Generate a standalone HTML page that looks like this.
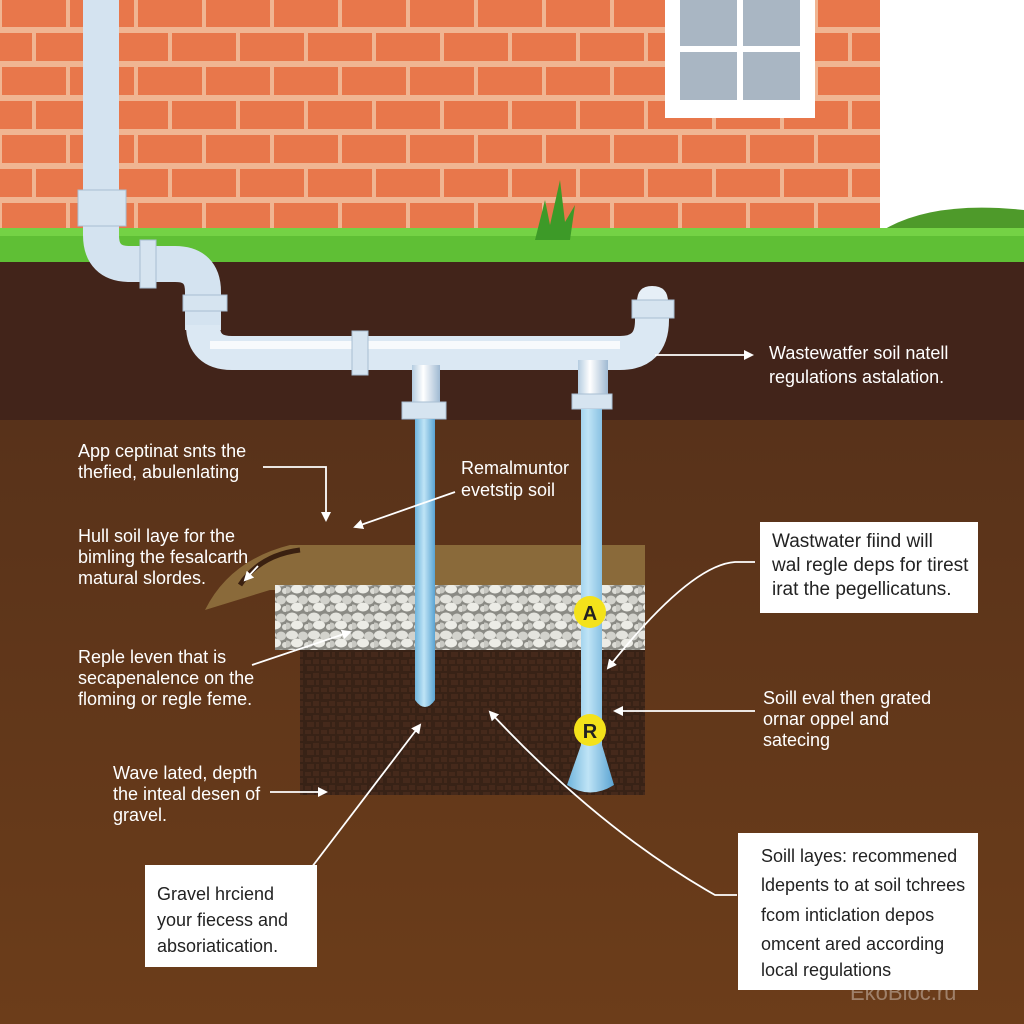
<!DOCTYPE html>
<html><head><meta charset="utf-8"><style>
html,body{margin:0;padding:0;width:1024px;height:1024px;overflow:hidden;background:#fff}
svg{display:block}
text{font-family:"Liberation Sans",sans-serif;}
</style></head><body>
<svg width="1024" height="1024" viewBox="0 0 1024 1024" xmlns="http://www.w3.org/2000/svg">
<defs>
<pattern id="brick" width="136" height="68" patternUnits="userSpaceOnUse" x="0" y="-4">
<rect width="136" height="68" fill="#f0b592"/>
<rect x="2" y="3" width="64" height="28" fill="#e8774b"/>
<rect x="70" y="3" width="64" height="28" fill="#e8774b"/>
<rect x="-32" y="37" width="64" height="28" fill="#e8774b"/>
<rect x="36" y="37" width="64" height="28" fill="#e8774b"/>
<rect x="104" y="37" width="64" height="28" fill="#e8774b"/>
</pattern>
<linearGradient id="soil" x1="0" y1="0" x2="0" y2="1"><stop offset="0" stop-color="#58321a"/><stop offset="1" stop-color="#6c3d1a"/></linearGradient>
<linearGradient id="pipeV" x1="0" y1="0" x2="1" y2="0"><stop offset="0" stop-color="#b4cce0"/><stop offset=".4" stop-color="#ffffff"/><stop offset="1" stop-color="#9fb9d2"/></linearGradient>
<linearGradient id="blueV" x1="0" y1="0" x2="1" y2="0"><stop offset="0" stop-color="#6fb4dc"/><stop offset=".45" stop-color="#bfe4f6"/><stop offset="1" stop-color="#5aa3d2"/></linearGradient>
<pattern id="grav" width="22" height="18" patternUnits="userSpaceOnUse">
<rect width="22" height="18" fill="#8a8a84"/>
<ellipse cx="6" cy="5" rx="6" ry="4.5" fill="#e4e4de"/>
<ellipse cx="17" cy="6" rx="5" ry="4.5" fill="#d2d2cc"/>
<ellipse cx="11" cy="13" rx="6" ry="4.5" fill="#ecece6"/>
<ellipse cx="1" cy="14" rx="4" ry="3.5" fill="#c8c8c2"/>
<ellipse cx="21" cy="15" rx="3" ry="3" fill="#dcdcd6"/>
</pattern>
<pattern id="dirt" width="16" height="14" patternUnits="userSpaceOnUse">
<rect width="16" height="14" fill="#382216"/>
<path d="M1 2h6v4h-6zM9 1h6v5h-6zM3 8h7v5h-7zM12 8h3v5h-3z" fill="#45291b"/>
</pattern>
<marker id="ar" markerWidth="10" markerHeight="10" refX="8" refY="5" orient="auto" markerUnits="userSpaceOnUse"><path d="M0 0L10 5L0 10z" fill="#fff"/></marker>
</defs>
<rect x="0" y="0" width="880" height="232" fill="url(#brick)"/>
<rect x="880" y="0" width="144" height="232" fill="#fff"/>
<path d="M880 232 Q930 200 1024 210 V240 H880z" fill="#4e9a2a"/>
<rect x="665" y="0" width="150" height="118" fill="#fff"/>
<rect x="680" y="0" width="120" height="100" fill="#a9b6c3"/>
<rect x="737" y="0" width="6" height="100" fill="#fff"/>
<rect x="680" y="46" width="120" height="6" fill="#fff"/>
<rect x="0" y="228" width="1024" height="36" fill="#5fbf35"/>
<rect x="0" y="228" width="1024" height="8" fill="#74d245"/>
<path d="M535 240 L545 200 L550 225 L560 180 L565 222 L575 205 L570 240z" fill="#3d9a28"/>
<rect x="0" y="262" width="1024" height="160" fill="#42241a"/>
<rect x="0" y="420" width="1024" height="604" fill="url(#soil)"/>
<path d="M205 610 Q230 560 290 545 L645 545 L645 590 L270 590z" fill="#8a6a3a"/>
<path d="M240 585 Q260 555 300 550" stroke="#3a2010" stroke-width="5" fill="none"/>
<rect x="275" y="585" width="370" height="65" fill="url(#grav)"/>
<rect x="300" y="650" width="345" height="145" fill="url(#dirt)"/>
<path d="M101 0 V235 Q101 264 130 264 H175 Q203 264 203 292 V330" stroke="#d4e3f0" stroke-width="36" fill="none"/>
<path d="M203 325 Q203 353 232 353 H620 Q652 353 652 320 V300" stroke="#dbe8f3" stroke-width="34" fill="none"/>
<path d="M210 345 H620" stroke="#fff" stroke-width="8" opacity=".8"/>
<rect x="78" y="190" width="48" height="36" fill="#d6e4f0" stroke="#a8bed2"/>
<rect x="140" y="240" width="16" height="48" fill="#d6e4f0" stroke="#a8bed2"/>
<rect x="183" y="295" width="44" height="16" fill="#d6e4f0" stroke="#a8bed2"/>
<rect x="352" y="331" width="16" height="44" fill="#d6e4f0" stroke="#a8bed2"/>
<path d="M637 302 Q637 286 652 286 Q668 286 668 302z" fill="#e6eff7"/>
<rect x="632" y="300" width="42" height="18" fill="#d6e4f0" stroke="#a8bed2"/>
<rect x="412" y="365" width="28" height="45" fill="url(#pipeV)"/>
<rect x="402" y="402" width="44" height="17" fill="#d6e4f0" stroke="#a8bed2"/>
<path d="M415 419 V700 Q425 714 435 700 V419z" fill="url(#blueV)"/>
<rect x="578" y="360" width="30" height="38" fill="url(#pipeV)"/>
<rect x="572" y="394" width="40" height="15" fill="#d6e4f0" stroke="#a8bed2"/>
<path d="M581 409 V745 L567 785 Q590 800 614 785 L602 745 V409z" fill="url(#blueV)"/>
<circle cx="590" cy="612" r="16" fill="#f4e21a"/><text x="590" y="620" font-size="20" font-weight="bold" text-anchor="middle" fill="#222">A</text>
<circle cx="590" cy="730" r="16" fill="#f4e21a"/><text x="590" y="738" font-size="20" font-weight="bold" text-anchor="middle" fill="#222">R</text>
<g stroke="#fff" stroke-width="1.8" fill="none" marker-end="url(#ar)">
<path d="M655 355 H752"/>
<path d="M263 467 H326 V520"/>
<path d="M455 492 L355 527"/>
<path d="M258 566 L245 580"/>
<path d="M252 665 L350 632"/>
<path d="M270 792 H326"/>
<path d="M302 880 L420 725"/>
<path d="M755 562 L735 562 Q690 565 608 668"/>
<path d="M755 711 H615"/>
<path d="M737 895 L715 895 Q600 830 490 712"/>
</g>
<g fill="#fff" font-size="18">
<text x="769" y="359">Wastewatfer soil natell</text>
<text x="769" y="383">regulations astalation.</text>
<text x="78" y="457">App ceptinat snts the</text>
<text x="78" y="478">thefied, abulenlating</text>
<text x="461" y="474">Remalmuntor</text>
<text x="461" y="496">evetstip soil</text>
<text x="78" y="542">Hull soil laye for the</text>
<text x="78" y="563">bimling the fesalcarth</text>
<text x="78" y="584">matural slordes.</text>
<text x="78" y="663">Reple leven that is</text>
<text x="78" y="684">secapenalence on the</text>
<text x="78" y="705">floming or regle feme.</text>
<text x="113" y="779">Wave lated, depth</text>
<text x="113" y="800">the inteal desen of</text>
<text x="113" y="821">gravel.</text>
<text x="763" y="704">Soill eval then grated</text>
<text x="763" y="725">ornar oppel and</text>
<text x="763" y="746">satecing</text>
</g>
<rect x="760" y="522" width="218" height="91" fill="#fff"/>
<g fill="#222" font-size="19"><text x="772" y="547">Wastwater fiind will</text><text x="772" y="571">wal regle deps for tirest</text><text x="772" y="595">irat the pegellicatuns.</text></g>
<rect x="145" y="865" width="172" height="102" fill="#fff"/>
<g fill="#222" font-size="18"><text x="157" y="900">Gravel hrciend</text><text x="157" y="926">your fiecess and</text><text x="157" y="952">absoriatication.</text></g>
<rect x="738" y="833" width="240" height="157" fill="#fff"/>
<g fill="#222" font-size="18"><text x="761" y="862">Soill layes: recommened</text><text x="761" y="891">ldepents to at soil tchrees</text><text x="761" y="921">fcom inticlation depos</text><text x="761" y="950">omcent ared according</text><text x="761" y="976">local regulations</text></g>
<text x="850" y="1000" font-size="22" fill="#fff" opacity=".35">EkoBloc.ru</text>
</svg>
</body></html>
